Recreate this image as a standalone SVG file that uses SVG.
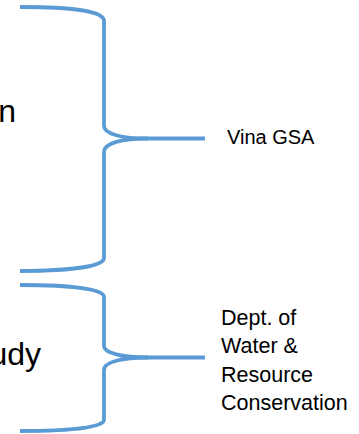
<svg xmlns="http://www.w3.org/2000/svg" width="359" height="434" viewBox="0 0 359 434">
  <style>
    .brace { fill: none; stroke: #5B9BD5; stroke-width: 3.8; stroke-linecap: butt; stroke-linejoin: round; }
    .big { font-family: "Liberation Sans", Arial, sans-serif; font-size: 32px; fill: #000; }
    .small { font-family: "Liberation Sans", Arial, sans-serif; font-size: 20px; fill: #000; }
    .dwr { font-size: 21.5px; }
  </style>
  <rect width="359" height="434" fill="#fff"/>
  <g id="connectors">
    <g id="brace-1">
      <path class="brace" d="M20,7 C72,7 104,11 104,21 V126 C104,134 122,138.5 148,138.5 H205"/>
      <path class="brace" d="M148,138.5 C122,138.5 104,143 104,152 V258 C104,266 72,271 20,271"/>
    </g>
    <g id="brace-2">
      <path class="brace" d="M20,285 C72,285 104,289 104,297 V346 C104,353 122,357.5 148,357.5 H205"/>
      <path class="brace" d="M148,357.5 C122,357.5 104,362 104,370 V420 C104,427 72,431 20,431"/>
    </g>
  </g>
  <g id="label-left-1">
    <text class="big" x="16" y="122" text-anchor="end">n</text>
  </g>
  <g id="label-left-2">
    <text class="big" x="41" y="365" text-anchor="end">udy</text>
  </g>
  <g id="label-vina">
    <text class="small" x="227" y="144">Vina GSA</text>
  </g>
  <g id="label-dwr">
    <text class="small dwr" x="221" y="325">Dept. of</text>
    <text class="small dwr" x="221" y="353">Water &amp;</text>
    <text class="small dwr" x="221" y="382">Resource</text>
    <text class="small dwr" x="221" y="410">Conservation</text>
  </g>
</svg>
